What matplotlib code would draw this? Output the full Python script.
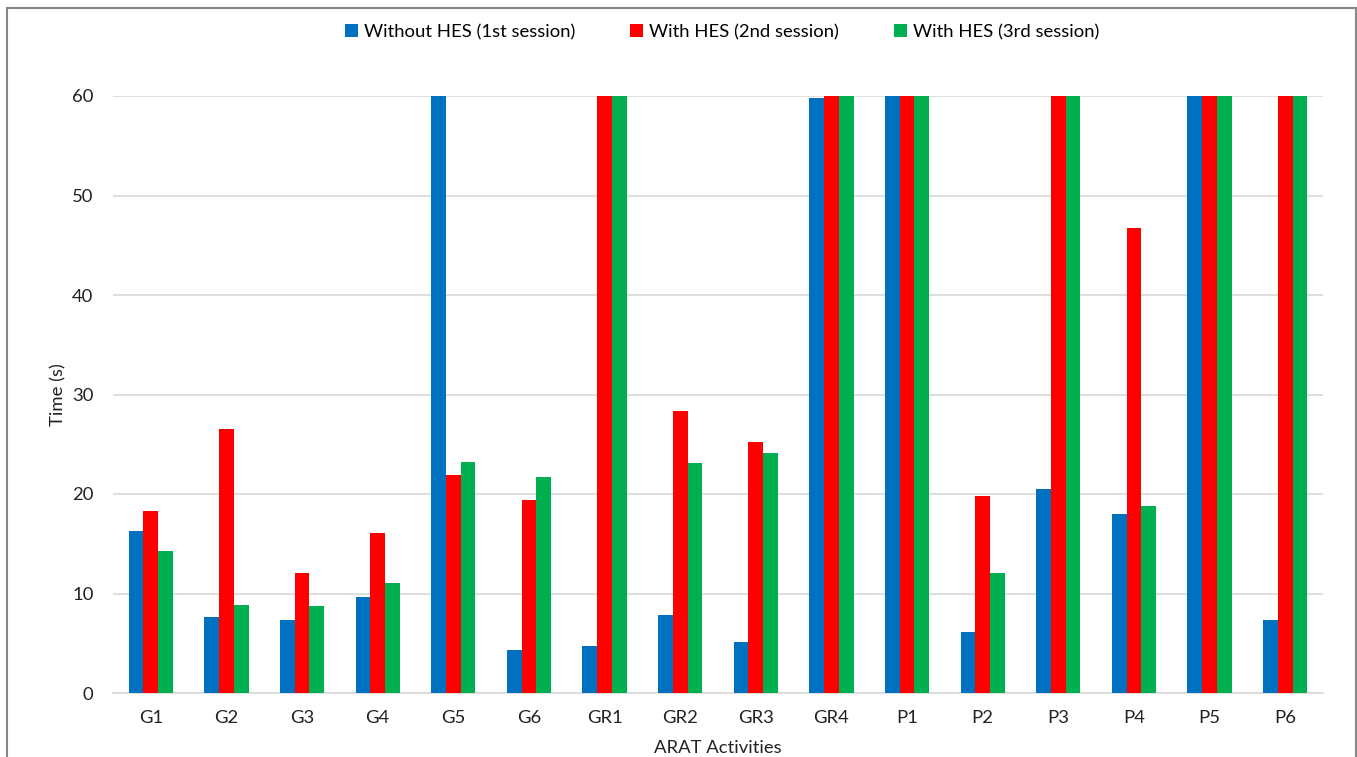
import matplotlib
matplotlib.use("Agg")
import matplotlib.pyplot as plt
import numpy as np
from matplotlib.patches import Rectangle

categories = ["G1", "G2", "G3", "G4", "G5", "G6", "GR1", "GR2", "GR3", "GR4",
              "P1", "P2", "P3", "P4", "P5", "P6"]
session1 = [16.3, 7.6, 7.3, 9.6, 60, 4.3, 4.75, 7.8, 5.1, 59.8,
            60, 6.1, 20.5, 18.0, 60, 7.3]
session2 = [18.3, 26.5, 12.1, 16.1, 21.9, 19.4, 60, 28.3, 25.2, 60,
            60, 19.8, 60, 46.7, 60, 60]
session3 = [14.3, 8.8, 8.7, 11.1, 23.2, 21.7, 60, 23.15, 24.15, 60,
            60, 12.1, 60, 18.8, 60, 60]
series_labels = ["Without HES (1st session)", "With HES (2nd session)", "With HES (3rd session)"]
colors = ["#0070C0", "#FF0000", "#00B050"]
yticks = [0, 10, 20, 30, 40, 50, 60]

plt.rcParams['font.family'] = ['Lato', 'DejaVu Sans']
FS = 13.3

fig = plt.figure(figsize=(13.57, 7.57), dpi=100)
ax = fig.add_axes([113/1357, 1-693/757, (1323-113)/1357, (693-96)/757])

x = np.arange(len(categories))
w = 0.195
for i, (vals, lab, c) in enumerate(zip([session1, session2, session3], series_labels, colors)):
    ax.bar(x + (i-1)*w, vals, width=w, color=c, label=lab, zorder=3)

ax.set_xlim(-0.5, len(categories)-0.5)
ax.set_ylim(0, 60)
ax.set_yticks(yticks)
ax.set_xticks(x)
ax.set_xticklabels(categories)
ax.tick_params(axis='both', length=0, labelsize=FS, colors='#222222')
ax.tick_params(axis='x', pad=12)
ax.tick_params(axis='y', pad=14)
ax.grid(axis='y', color='#D9D9D9', linewidth=1.2, zorder=0)
for s in ['top', 'right', 'left']:
    ax.spines[s].set_visible(False)
ax.spines['bottom'].set_color('#D9D9D9')
ax.spines['bottom'].set_linewidth(1.2)
ax.set_ylabel("Time (s)", fontsize=FS, color='#222222', labelpad=4)
ax.set_xlabel("ARAT Activities", fontsize=FS, color='#222222', labelpad=10)

handles, labels = ax.get_legend_handles_labels()
fig.legend(handles, labels, loc='center', bbox_to_anchor=(722/1357, 1-32/757), ncol=3,
           frameon=False, fontsize=FS, handlelength=0.7, handleheight=0.7,
           handletextpad=0.3, columnspacing=3.0)

fig.patches.append(Rectangle((7/1357, -0.05), (1356-7)/1357, 1-8/757+0.05,
                             transform=fig.transFigure, fill=False,
                             edgecolor='#888888', linewidth=1.5))

fig.savefig("out.png", dpi=100)
